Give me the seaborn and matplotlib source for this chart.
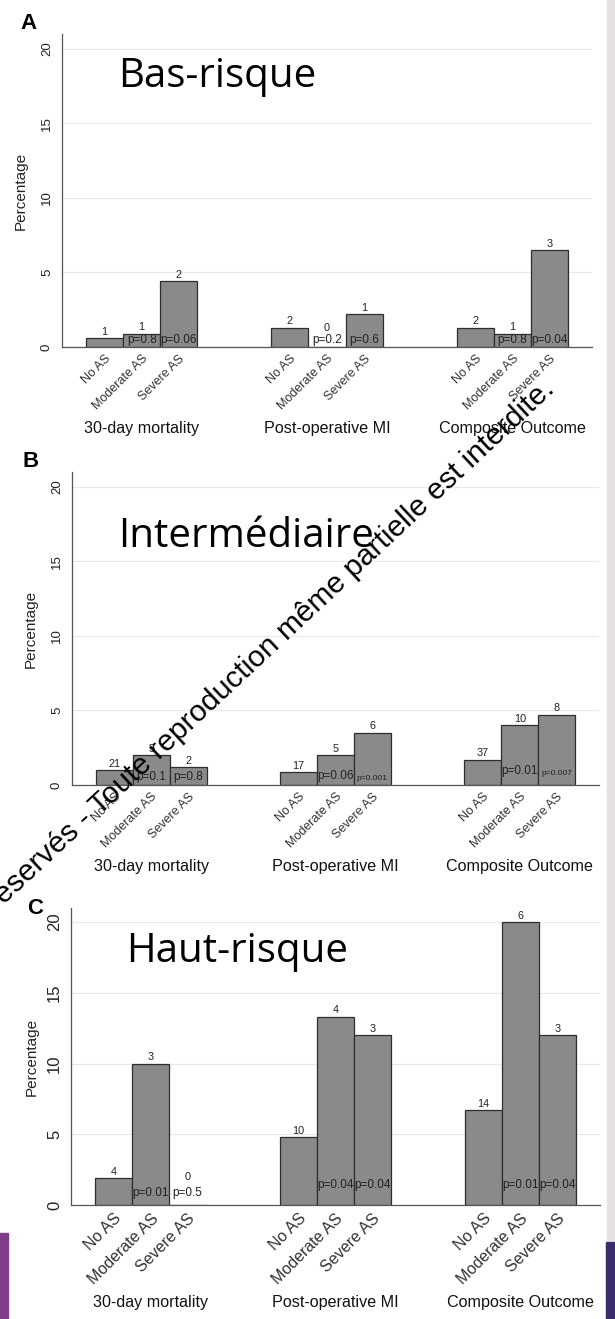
import numpy as np
import pandas as pd
import matplotlib
matplotlib.use("Agg")
import matplotlib.pyplot as plt
import seaborn as sns
from matplotlib.patches import Rectangle

# ---------------- data ----------------
outcomes = ["30-day mortality", "Post-operative MI", "Composite Outcome"]
as_levels = ["No AS", "Moderate AS", "Severe AS"]
panel_letters = ["A", "B", "C"]
panel_titles = ["Bas-risque", "Intermédiaire", "Haut-risque"]

# percentage per outcome group, ordered No AS, Moderate AS, Severe AS
pct_low = [0.6, 0.9, 4.4, 1.3, 0.0, 2.2, 1.3, 0.9, 6.5]
pct_mid = [1.0, 2.0, 1.2, 0.85, 2.0, 3.5, 1.7, 4.0, 4.7]
pct_high = [1.9, 10.0, 0.0, 4.8, 13.3, 12.0, 6.7, 20.0, 12.0]

n_low = [1, 1, 2, 2, 0, 1, 2, 1, 3]
n_mid = [21, 5, 2, 17, 5, 6, 37, 10, 8]
n_high = [4, 3, 0, 10, 4, 3, 14, 6, 3]

p_low = ["", "p=0.8", "p=0.06", "", "p=0.2", "p=0.6", "", "p=0.8", "p=0.04"]
p_mid = ["", "p=0.1", "p=0.8", "", "p=0.06", "p=0.001", "", "p=0.01", "p=0.007"]
p_high = ["", "p=0.01", "p=0.5", "", "p=0.04", "p=0.04", "", "p=0.01", "p=0.04"]

yticks = [0, 5, 10, 15, 20]
watermark = "s réservés - Toute reproduction même partielle est interdite."

# ---------------- style ----------------
sns.set_theme(style="white")
plt.rcParams["font.family"] = ["Liberation Sans", "DejaVu Sans"]

W, H = 615, 1319
fig = plt.figure(figsize=(W / 100, H / 100), dpi=100)
fig.patch.set_facecolor("white")


def rect(l, r, top, bot):
    return [l / W, 1 - bot / H, (r - l) / W, (bot - top) / H]


panels = [
    dict(rect=rect(62, 592, 34, 347), xt=9.0, yt=9.5, glab=81, ylab=34,
         letter=(20, 13), title=(118, 87), p_off=[1, 1, 1], zero_pad=14),
    dict(rect=rect(72, 599, 472, 785), xt=9.0, yt=9.5, glab=82, ylab=34,
         letter=(22, 451), title=(118, 547), p_off=[2, 3, 8], zero_pad=14),
    dict(rect=rect(71, 600, 908, 1205), xt=11.5, yt=12, glab=97, ylab=32,
         letter=(27, 898), title=(126, 962), p_off=[6, 14, 14], zero_pad=23),
]
data = [(pct_low, n_low, p_low), (pct_mid, n_mid, p_mid), (pct_high, n_high, p_high)]

bar_color = "#8a8a8a"
edge_color = "#2e2e2e"
axis_color = "#555555"

for k, (cfg, (pct, ns, ps)) in enumerate(zip(panels, data)):
    ax = fig.add_axes(cfg["rect"])
    ax.set_facecolor("none")
    df = pd.DataFrame({
        "outcome": np.repeat(outcomes, 3),
        "level": as_levels * 3,
        "pct": pct,
    })
    sns.barplot(data=df, x="outcome", y="pct", hue="level", order=outcomes,
                hue_order=as_levels, palette=[bar_color] * 3, width=0.6,
                edgecolor=edge_color, linewidth=0.9, saturation=1,
                legend=False, errorbar=None, ax=ax, zorder=2)
    ax.set_xlim(-0.43, 2.43)
    ax.set_ylim(0, 21)
    ax.set_yticks(yticks)
    ax.set_yticklabels([str(v) for v in yticks], rotation=90, va="center",
                       fontsize=cfg["yt"], color="#222222")
    ax.tick_params(axis="y", length=4.5, width=0.8, color=axis_color, pad=2)
    ax.yaxis.grid(True, color="#e9e9e9", lw=0.9)
    ax.set_axisbelow(True)
    sns.despine(ax=ax)
    for s in ("left", "bottom"):
        ax.spines[s].set_color(axis_color)
        ax.spines[s].set_linewidth(0.9)
    ax.set_xlabel("")
    ax.set_ylabel("Percentage", fontsize=11, color="#222222")
    width_px = cfg["rect"][2] * W
    ax.yaxis.set_label_coords(-cfg["ylab"] / width_px, 0.5)

    centers = []
    for i, cont in enumerate(ax.containers):
        for j, bar in enumerate(cont):
            idx = j * 3 + i
            cx = bar.get_x() + bar.get_width() / 2
            h = bar.get_height()
            centers.append(cx)
            pad = 1.5 if h > 0 else cfg["zero_pad"]
            ax.annotate(str(ns[idx]), xy=(cx, h), xytext=(0, pad),
                        textcoords="offset pixels", ha="center", va="bottom",
                        fontsize=7.8, color="#222222", zorder=4)
            if ps[idx]:
                small = ps[idx] in ("p=0.001", "p=0.007")
                ax.annotate(ps[idx], xy=(cx, 0), xytext=(0, cfg["p_off"][j]),
                            textcoords="offset pixels", ha="center", va="bottom",
                            fontsize=6 if small else 8.5, color="#222222", zorder=4)
    centers = sorted(centers)
    ax.set_xticks(centers)
    ax.set_xticklabels(as_levels * 3, rotation=45, ha="right",
                       rotation_mode="anchor", fontsize=cfg["xt"], color="#333333")
    ax.tick_params(axis="x", length=0, pad=4)

    for j, name in enumerate(outcomes):
        ax.annotate(name, xy=(j, 0), xycoords=("data", "axes fraction"),
                    xytext=(0, -cfg["glab"]), textcoords="offset pixels",
                    ha="center", va="center", fontsize=11.6, color="#111111")

    lx, ly = cfg["letter"]
    fig.text(lx / W, 1 - ly / H, panel_letters[k], ha="left", va="top",
             fontsize=16, fontweight="bold", color="black")
    tx, ty = cfg["title"]
    fig.text(tx / W, 1 - ty / H, panel_titles[k], ha="left",
             va="baseline", fontsize=29, family=["Open Sans", "DejaVu Sans"],
             color="black")

# watermark text overlay
fig.text(-20 / W, 1 - 928 / H, watermark, rotation=43, rotation_mode="anchor",
         ha="left", va="baseline", fontsize=21.5, color="black", zorder=10)

# slide edges
fig.patches.append(Rectangle((607 / W, (H - 1240) / H), 8 / W, 1240 / H,
                             transform=fig.transFigure, color="#e4e0e4", zorder=0))
fig.patches.append(Rectangle((0, 0), 8 / W, (H - 1233) / H,
                             transform=fig.transFigure, color="#7e3f88", zorder=0))
fig.patches.append(Rectangle((606 / W, 0), 9 / W, (H - 1242) / H,
                             transform=fig.transFigure, color="#3d2c6c", zorder=0))

fig.savefig("out.png", dpi=100)
